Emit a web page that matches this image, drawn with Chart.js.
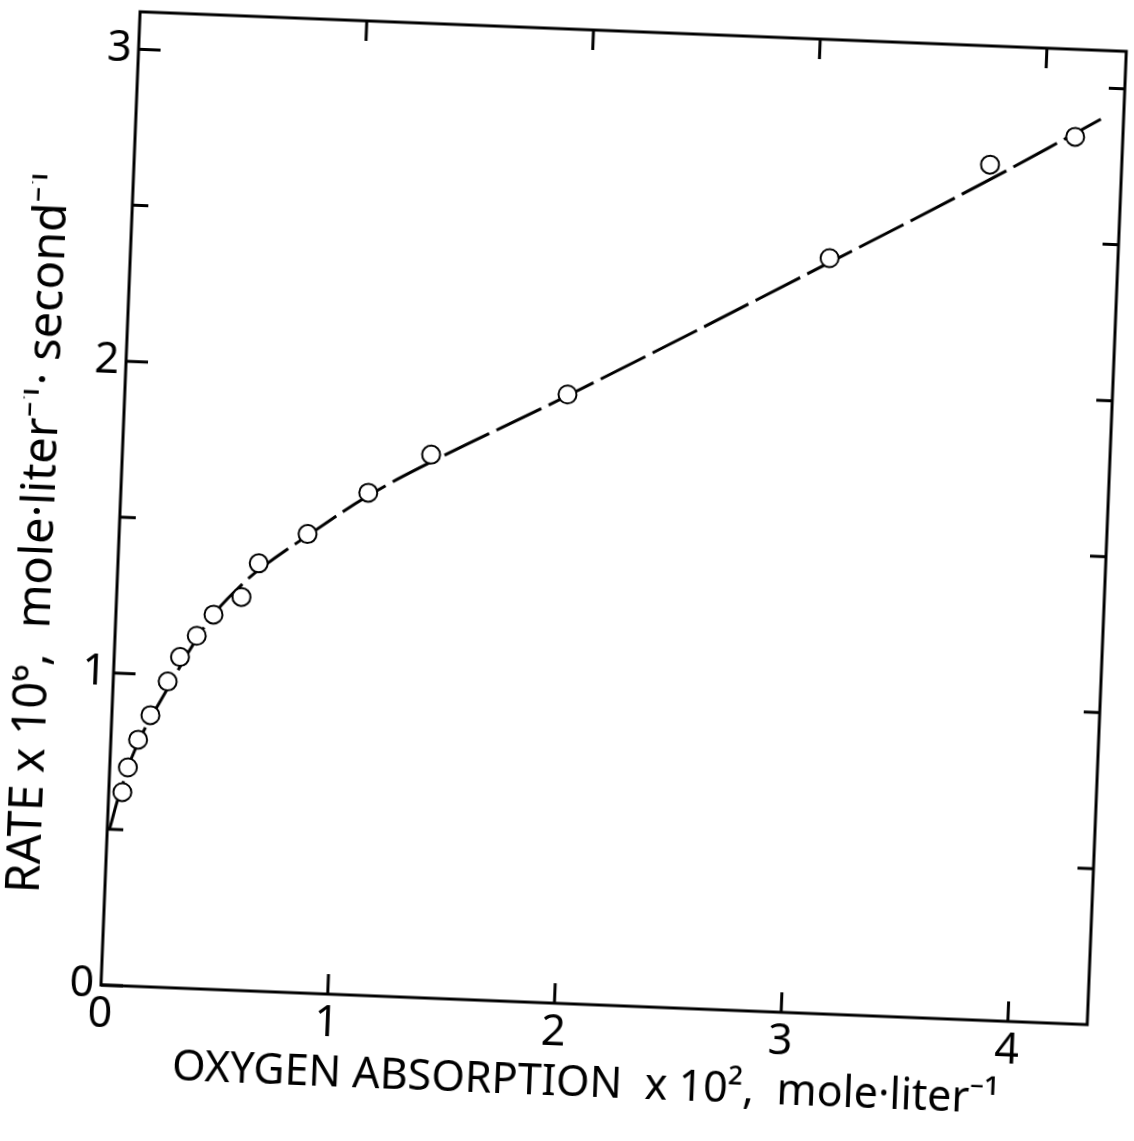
<!DOCTYPE html>
<html>
<head>
<meta charset="utf-8">
<script src="https://cdn.jsdelivr.net/npm/chart.js@4.4.0/dist/chart.umd.min.js"></script>
<style>
  html, body { margin: 0; padding: 0; background: #fff; overflow: hidden; }
  /* the scanned figure sits about 2.3 degrees off square */
  #myChart { display: block; transform: rotate(2.3deg); transform-origin: 101px 985px; }
</style>
</head>
<body>
<canvas id="myChart" width="1134" height="1141"></canvas>
<script>
// measured points (oxygen absorbed x 10^2, rate x 10^6)
const oxygen = [0.06, 0.08, 0.12, 0.17, 0.24, 0.29, 0.36, 0.43, 0.55, 0.62, 0.83, 1.09, 1.36, 1.95, 3.08, 3.77, 4.14];
const rate   = [0.62, 0.70, 0.79, 0.87, 0.98, 1.06, 1.13, 1.20, 1.26, 1.37, 1.47, 1.61, 1.74, 1.95, 2.42, 2.74, 2.84];

// hand-drawn dashed curve
const curveX = [0.01, 0.05, 0.12, 0.25, 0.36, 0.44, 0.55, 0.64, 0.84, 1.09, 1.37, 1.96, 3.09, 3.79, 4.25];
const curveY = [0.50, 0.62, 0.78, 0.97, 1.12, 1.21, 1.30, 1.36, 1.47, 1.60, 1.72, 1.95, 2.41, 2.70, 2.90];

const xTicks = [0, 1, 2, 3, 4];
const yTicks = [0, 1, 2, 3];
const yMinor = [0.5, 1.5, 2.5];
const rightTicks = [0.5, 1, 1.5, 2, 2.5, 3];
const topTicks = [1, 2, 3, 4];

const FONT = '"Noto Sans", "DejaVu Sans", sans-serif';

const frame = {
  id: 'frame',
  afterDatasetsDraw(chart) {
    const ctx = chart.ctx;
    const a = chart.chartArea;
    const x = chart.scales.x, y = chart.scales.y;
    ctx.save();
    ctx.strokeStyle = '#000';
    ctx.lineWidth = 3;
    ctx.strokeRect(a.left, a.top, a.right - a.left, a.bottom - a.top);
    ctx.beginPath();
    xTicks.forEach(v => {
      if (v === 0) return;
      const px = x.getPixelForValue(v);
      ctx.moveTo(px, a.bottom); ctx.lineTo(px, a.bottom - 20);
    });
    topTicks.forEach(v => {
      const px = x.getPixelForValue(v);
      ctx.moveTo(px, a.top); ctx.lineTo(px, a.top + 20);
    });
    yTicks.forEach(v => {
      const py = y.getPixelForValue(v);
      ctx.moveTo(a.left, py); ctx.lineTo(a.left + 22, py);
    });
    yMinor.forEach(v => {
      const py = y.getPixelForValue(v);
      ctx.moveTo(a.left, py); ctx.lineTo(a.left + 16, py);
    });
    rightTicks.forEach(v => {
      const py = y.getPixelForValue(v);
      ctx.moveTo(a.right, py); ctx.lineTo(a.right - 16, py);
    });
    ctx.stroke();
    ctx.restore();
  }
};

const data = {
  datasets: [{
    label: 'measured',
    data: oxygen.map((v, i) => ({x: v, y: rate[i]})),
    showLine: false,
    pointRadius: 9,
    pointBorderWidth: 2,
    pointBackgroundColor: '#fff',
    pointBorderColor: '#000',
    order: 0
  }, {
    label: 'curve',
    data: curveX.map((v, i) => ({x: v, y: curveY[i]})),
    showLine: true,
    borderColor: '#000',
    borderWidth: 3,
    borderDash: [50, 8],
    tension: 0.4,
    pointRadius: 0,
    order: 1
  }]
};

const config = {
  type: 'scatter',
  data: data,
  options: {
    responsive: false,
    animation: false,
    devicePixelRatio: 1,
    layout: { padding: { top: 10, right: 46, left: 0, bottom: 0 } },
    plugins: { legend: { display: false }, tooltip: { enabled: false } },
    scales: {
      x: {
        type: 'linear',
        min: 0,
        max: 4.35,
        grid: { display: false, drawTicks: false },
        border: { display: false },
        afterBuildTicks: s => { s.ticks = xTicks.map(v => ({value: v})); },
        afterFit: s => { s.height = 156; s.paddingLeft = 0; s.paddingRight = 0; },
        ticks: { color: '#000', padding: 4, font: { family: FONT, size: 43 } },
        title: {
          display: true,
          text: 'OXYGEN ABSORPTION  x 10\u00b2,  mole\u00b7liter\u207b\u00b9\u00a0',
          color: '#000',
          font: { family: FONT, size: 43 },
          padding: { top: 0, bottom: 50 }
        }
      },
      y: {
        type: 'linear',
        min: 0,
        max: 3.12,
        grid: { display: false, drawTicks: false },
        border: { display: false },
        afterBuildTicks: s => { s.ticks = yTicks.map(v => ({value: v})); },
        afterFit: s => { s.width = 101; s.paddingTop = 0; s.paddingBottom = 0; },
        ticks: { color: '#000', padding: 7, font: { family: FONT, size: 43 } },
        title: {
          display: true,
          text: 'RATE x 10\u2076,  mole\u00b7liter\u207b\u00b9\u00b7 second\u207b\u00b9\u00a0\u00a0\u00a0\u00a0\u00a0\u00a0',
          color: '#000',
          font: { family: FONT, size: 47, lineHeight: 0.9 },
          padding: { top: 0, bottom: 0 }
        }
      }
    }
  },
  plugins: [frame]
};

const myChart = new Chart(document.getElementById('myChart'), config);
</script>
</body>
</html>
